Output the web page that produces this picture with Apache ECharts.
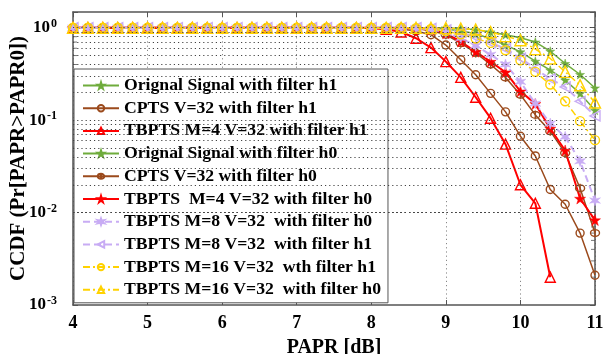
<!DOCTYPE html>
<html>
<head>
<meta charset="utf-8">
<script src="https://cdn.jsdelivr.net/npm/echarts@6/dist/echarts.min.js"></script>
<style>
  html, body { margin: 0; padding: 0; background: #fff; }
  #chart { width: 605px; height: 354px; }
</style>
</head>
<body>
<div id="chart"></div>
<script>
// PAPR threshold (dB), sampled every 0.2 dB
const paprDb = [3.8, 4.0, 4.2, 4.4, 4.6, 4.8, 5.0, 5.2, 5.4, 5.6, 5.8, 6.0, 6.2, 6.4, 6.6, 6.8, 7.0, 7.2, 7.4, 7.6, 7.8,
                8.0, 8.2, 8.4, 8.6, 8.8, 9.0, 9.2, 9.4, 9.6, 9.8, 10.0, 10.2, 10.4, 10.6, 10.8, 11.0];

// CCDF curves, one value per PAPR threshold
const origH1 = [1,1,1,1,1,1,1,1,1,1,1,1,1,1,1,1,1,1,1,1,1,
                1, 1, 1, 0.995, 0.985, 0.965, 0.93, 0.86, 0.76, 0.65, 0.548, 0.434, 0.347, 0.271, 0.194, 0.128];
const cptsH1 = [1,1,1,1,1,1,1,1,1,1,1,1,1,1,1,1,1,1,1,1,1,
                1, 0.99, 0.97, 0.92, 0.84, 0.65, 0.45, 0.31, 0.195, 0.123, 0.067, 0.041, 0.0178, 0.0123, 0.006, 0.0021];
const tb4H1  = [1,1,1,1,1,1,1,1,1,1,1,1,1,1,1,1,1,1,1,1,1,
                0.99, 0.96, 0.90, 0.77, 0.61, 0.43, 0.29, 0.177, 0.105, 0.055, 0.020, 0.0126, 0.002, null, null, null];
const origH0 = [1,1,1,1,1,1,1,1,1,1,1,1,1,1,1,1,1,1,1,1,1,
                1, 1, 1, 1, 1, 0.995, 0.98, 0.95, 0.90, 0.84, 0.78, 0.70, 0.557, 0.41, 0.312, 0.223];
const cptsH0 = [1,1,1,1,1,1,1,1,1,1,1,1,1,1,1,1,1,1,1,1,1,
                1, 1, 0.995, 0.98, 0.93, 0.84, 0.68, 0.534, 0.40, 0.29, 0.188, 0.114, 0.076, 0.044, 0.0183, 0.006];
const tb4H0  = [1,1,1,1,1,1,1,1,1,1,1,1,1,1,1,1,1,1,1,1,1,
                1, 1, 0.995, 0.985, 0.95, 0.87, 0.71, 0.55, 0.43, 0.33, 0.205, 0.15, 0.081, 0.047, 0.0142, 0.0083];
const tb8H0  = [1,1,1,1,1,1,1,1,1,1,1,1,1,1,1,1,1,1,1,1,1,
                1, 1, 1, 0.99, 0.96, 0.89, 0.77, 0.64, 0.51, 0.40, 0.26, 0.151, 0.092, 0.066, 0.036, 0.0135];
const tb8H1  = [1,1,1,1,1,1,1,1,1,1,1,1,1,1,1,1,1,1,1,1,1,
                1, 1, 1, 1, 0.985, 0.95, 0.89, 0.79, 0.69, 0.59, 0.47, 0.36, 0.28, 0.229, 0.16, 0.111];
const tb16H1 = [1,1,1,1,1,1,1,1,1,1,1,1,1,1,1,1,1,1,1,1,1,
                1, 1, 1, 0.99, 0.97, 0.92, 0.85, 0.765, 0.685, 0.571, 0.445, 0.333, 0.243, 0.160, 0.0975, 0.0608];
const tb16H0 = [1,1,1,1,1,1,1,1,1,1,1,1,1,1,1,1,1,1,1,1,1,
                1, 1, 1, 1, 0.995, 0.99, 0.98, 0.955, 0.90, 0.81, 0.733, 0.586, 0.465, 0.333, 0.239, 0.155];

// Legend labels
const seriesNames = [
  'Orignal Signal with filter h1',
  'CPTS V=32 with filter h1',
  'TBPTS M=4 V=32 with filter h1',
  'Orignal Signal with filter h0',
  'CPTS V=32 with filter h0',
  'TBPTS  M=4 V=32 with filter h0',
  'TBPTS M=8 V=32  with filter h0',
  'TBPTS M=8 V=32  with filter h1',
  'TBPTS M=16 V=32  wth filter h1',
  'TBPTS M=16 V=32  with filter h0'
];

// Axis ticks
const xTicks = [4, 5, 6, 7, 8, 9, 10, 11];
const yDecades = [0.001, 0.01, 0.1, 1];
const yMinor = [0.002, 0.003, 0.004, 0.005, 0.006, 0.007, 0.008, 0.009,
                0.02, 0.03, 0.04, 0.05, 0.06, 0.07, 0.08, 0.09,
                0.2, 0.3, 0.4, 0.5, 0.6, 0.7, 0.8, 0.9];

const FONT = 'Liberation Serif';
const GREEN = '#6fac3c', BROWN = '#9b4a1c', RED = '#ff0000', LILAC = '#c8acf4', GOLD = '#ffd200';

const SYM = {
  star5: 'path://M50,0 L61,35 L98,35 L68,57 L79,91 L50,70 L21,91 L32,57 L2,35 L39,35 Z',
  star6: 'path://M50,0 L60,33 L93,25 L70,50 L93,75 L60,67 L50,100 L40,67 L7,75 L30,50 L7,25 L40,33 Z',
  triLeft: 'path://M0,50 L100,0 L100,100 Z',
  phi: 'path://M50,0 L50,100 M50,12 A38,38 0 1,1 50,88 A38,38 0 1,1 50,12 Z'
};

function pts(vals) {
  return paprDb.map((x, i) => [x, vals[i]]).filter(p => p[1] != null);
}

function curve(name, vals, color, width, dash, symbol, size, hollow) {
  return {
    name, type: 'line', data: pts(vals),
    symbol, symbolSize: size, showSymbol: true, showAllSymbol: true,
    clip: true, silent: true,
    lineStyle: { color, width, type: dash },
    itemStyle: hollow
      ? { color: 'rgba(0,0,0,0)', borderColor: color, borderWidth: 1.4 }
      : { color, borderColor: color, borderWidth: 0.5 }
  };
}

const DASH = [7, 4];
const DASHDOT = [7, 3, 2, 3];

const series = [
  // dotted horizontal grid for every decade and its sub-steps, plus minor ticks on both sides
  {
    type: 'scatter', silent: true, clip: false, symbol: 'rect', symbolSize: [4, 1], symbolOffset: [2, 0],
    itemStyle: { color: '#555' },
    data: yMinor.map(v => [4, v]),
    markLine: {
      silent: true, symbol: 'none', label: { show: false },
      lineStyle: { color: '#444', width: 1, type: [1.2, 3] },
      data: yDecades.concat(yMinor).map(v => ({ yAxis: v }))
    }
  },
  {
    type: 'scatter', silent: true, clip: false, symbol: 'rect', symbolSize: [4, 1], symbolOffset: [-2, 0],
    itemStyle: { color: '#555' },
    data: yMinor.map(v => [11, v])
  },
  curve(seriesNames[0], origH1, GREEN, 1.5, 'solid', SYM.star5, 9, false),
  curve(seriesNames[1], cptsH1, BROWN, 1.5, 'solid', 'circle', 8, true),
  curve(seriesNames[2], tb4H1, RED, 2, 'solid', 'triangle', 10, true),
  curve(seriesNames[3], origH0, GREEN, 1.5, 'solid', SYM.star5, 9, false),
  curve(seriesNames[4], cptsH0, BROWN, 1.5, 'solid', SYM.phi, 9, true),
  curve(seriesNames[5], tb4H0, RED, 2, 'solid', SYM.star5, 11, false),
  curve(seriesNames[6], tb8H0, LILAC, 2, DASH, SYM.star6, 11, false),
  curve(seriesNames[7], tb8H1, LILAC, 2, DASH, SYM.triLeft, 10, true),
  curve(seriesNames[8], tb16H1, GOLD, 1.5, DASHDOT, 'circle', 9, true),
  curve(seriesNames[9], tb16H0, GOLD, 1.5, DASHDOT, 'triangle', 11, true)
];

const axisLine = { show: true, lineStyle: { color: '#555', width: 1.5 } };
const tickStyle = { show: true, inside: true, length: 5, lineStyle: { color: '#555', width: 1 } };

const chart = echarts.init(document.getElementById('chart'), null, { renderer: 'canvas' });
chart.setOption({
  animation: false,
  backgroundColor: '#fff',
  grid: { left: 73, right: 10, top: 12, bottom: 49, containLabel: false, outerBoundsMode: 'none' },
  legend: {
    orient: 'vertical', left: 74, top: 69,
    padding: [7.5, 7, 4, 8], itemGap: 4.7, itemWidth: 36, itemHeight: 8,
    backgroundColor: '#fff', borderColor: '#555', borderWidth: 1, borderRadius: 0,
    selectedMode: false,
    textStyle: { fontFamily: FONT, fontWeight: 'bold', fontSize: 17.7, color: '#000', lineHeight: 17 },
    data: seriesNames
  },
  xAxis: [
    {
      type: 'value', min: xTicks[0], max: xTicks[xTicks.length - 1], interval: 1,
      name: 'PAPR [dB]', nameLocation: 'middle', nameGap: 33, nameMoveOverlap: false,
      nameTextStyle: { fontFamily: FONT, fontWeight: 'bold', fontSize: 20, color: '#000' },
      axisLine, axisTick: tickStyle,
      axisLabel: { margin: 9, fontFamily: FONT, fontWeight: 'bold', fontSize: 18, color: '#000' },
      splitLine: { show: true, lineStyle: { color: '#888', width: 1, type: [1.2, 3] } }
    },
    {
      type: 'value', position: 'top', min: xTicks[0], max: xTicks[xTicks.length - 1], interval: 1,
      axisLine, axisTick: tickStyle, axisLabel: { show: false }, splitLine: { show: false }
    }
  ],
  yAxis: [
    {
      type: 'log', logBase: 10, min: yDecades[0], max: 1.48,
      name: 'CCDF (Pr[PAPR>PAPR0])', nameLocation: 'middle', nameGap: 44, nameRotate: 90,
      nameMoveOverlap: false,
      nameTextStyle: { fontFamily: FONT, fontWeight: 'bold', fontSize: 21, color: '#000' },
      axisLine, axisTick: tickStyle,
      splitLine: { show: false },
      axisLabel: {
        margin: 16,
        formatter: v => {
          const e = Math.round(Math.log10(v));
          if (Math.abs(Math.log10(v) - e) > 1e-6) return '';
          return '{b|10}{s|' + e + '}';
        },
        rich: {
          b: { fontFamily: FONT, fontWeight: 'bold', fontSize: 17, color: '#000' },
          s: { fontFamily: FONT, fontWeight: 'bold', fontSize: 12, color: '#000', verticalAlign: 'top', padding: [0, 0, 8, 1] }
        }
      }
    },
    {
      type: 'log', logBase: 10, min: yDecades[0], max: 1.48, position: 'right',
      axisLine, axisTick: tickStyle, axisLabel: { show: false }, splitLine: { show: false }
    }
  ],
  series
});
</script>
</body>
</html>
